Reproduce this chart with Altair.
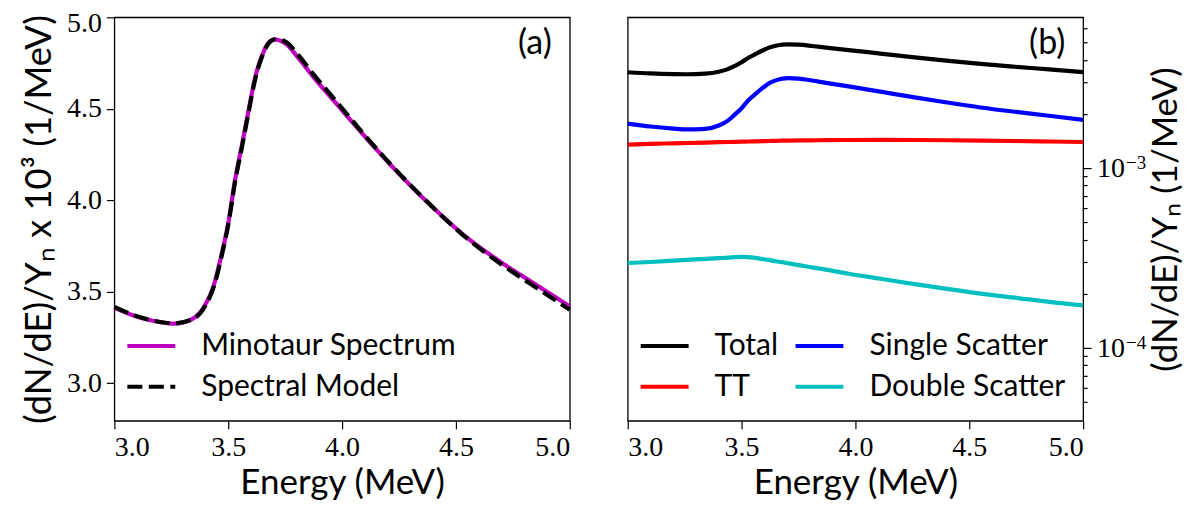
import altair as alt
import pandas as pd

# ---------------- data ----------------
energy = [3.0, 3.1, 3.2, 3.26, 3.34, 3.4, 3.44, 3.47, 3.5, 3.53, 3.56, 3.59, 3.62,
          3.65, 3.68, 3.705, 3.75, 3.81, 3.87, 3.97, 4.11, 4.26, 4.41, 4.55, 4.70,
          4.85, 5.0]

# panel (a): spectra x 1e3
minotaur = [3.413, 3.364, 3.335, 3.326, 3.350, 3.432, 3.550, 3.700, 3.875, 4.110,
            4.300, 4.495, 4.680, 4.795, 4.865, 4.878, 4.858, 4.775, 4.680, 4.535,
            4.335, 4.132, 3.948, 3.795, 3.660, 3.540, 3.420]
model = [3.418, 3.366, 3.335, 3.327, 3.348, 3.425, 3.540, 3.690, 3.865, 4.100,
         4.290, 4.485, 4.670, 4.790, 4.862, 4.880, 4.868, 4.790, 4.695, 4.548,
         4.340, 4.135, 3.948, 3.790, 3.650, 3.525, 3.402]

# panel (b): components, in units of 1e-3 (1/MeV)
total = [3.413, 3.364, 3.335, 3.326, 3.350, 3.432, 3.550, 3.700, 3.875, 4.110,
         4.300, 4.495, 4.680, 4.795, 4.865, 4.878, 4.858, 4.775, 4.680, 4.535,
         4.335, 4.132, 3.948, 3.795, 3.660, 3.540, 3.420]
single = [1.767, 1.702, 1.658, 1.640, 1.652, 1.725, 1.837, 1.982, 2.153, 2.386,
          2.576, 2.772, 2.958, 3.075, 3.147, 3.162, 3.146, 3.068, 2.978, 2.845,
          2.660, 2.474, 2.308, 2.173, 2.056, 1.955, 1.852]
tt = [1.350, 1.362, 1.372, 1.378, 1.386, 1.392, 1.396, 1.399, 1.402, 1.405,
      1.408, 1.411, 1.414, 1.417, 1.419, 1.421, 1.424, 1.427, 1.430, 1.432,
      1.433, 1.432, 1.428, 1.422, 1.414, 1.405, 1.396]
double = [0.296, 0.300, 0.305, 0.308, 0.312, 0.315, 0.317, 0.319, 0.320, 0.319,
          0.316, 0.312, 0.308, 0.303, 0.299, 0.295, 0.288, 0.280, 0.272, 0.258,
          0.242, 0.226, 0.212, 0.200, 0.190, 0.180, 0.172]

left_names = ["Minotaur Spectrum", "Spectral Model"]
left_colors = ["#bf00bf", "#000000"]
# legend fills column by column: (Total, TT) | (Single Scatter, Double Scatter)
right_names = ["Total", "TT", "Single Scatter", "Double Scatter"]
right_colors = ["#000000", "#ff0000", "#0000ff", "#00bfbf"]

x_ticks = [3.0, 3.5, 4.0, 4.5, 5.0]
y_ticks_left = [3.0, 3.5, 4.0, 4.5, 5.0]
log_ticks = [5e-5, 6e-5, 7e-5, 8e-5, 9e-5,
             1e-4, 2e-4, 3e-4, 4e-4, 5e-4, 6e-4, 7e-4, 8e-4, 9e-4,
             1e-3, 2e-3, 3e-3, 4e-3, 5e-3, 6e-3]
# labelled decades of the log axis: mantissa text and exponent text
decade_values = [1e-4, 1e-3]
decade_base = ["10", "10"]
decade_exp = ["−4", "−3"]

n = len(energy)
left_df = pd.DataFrame({
    "E": energy * 2,
    "v": minotaur + model,
    "s": [left_names[0]] * n + [left_names[1]] * n,
    "o": [0] * n + [1] * n,
})
right_rows = []
for name, arr in zip(["Total", "Single Scatter", "TT", "Double Scatter"],
                     [total, single, tt, double]):
    for e, v in zip(energy, arr):
        right_rows.append({"E": e, "v": v * 1e-3, "s": name})
right_df = pd.DataFrame(right_rows)
decade_df = pd.DataFrame({"v": decade_values, "b": decade_base, "e": decade_exp})

TITLE_FONT = "Lato"
LABEL_FONT = "Liberation Serif"

W, H = 456, 404


def x_enc():
    return alt.X("E:Q", scale=alt.Scale(domain=[3.0, 5.0], nice=False, zero=False),
                 axis=alt.Axis(values=x_ticks, format=".1f", title="Energy (MeV)",
                               tickSize=8, labelPadding=5, titlePadding=4))


leg_common = dict(orient="none", title=None, symbolType="stroke", symbolSize=2300,
                  symbolStrokeWidth=4, labelFont=TITLE_FONT, labelFontSize=30,
                  labelColor="black", labelOffset=24, rowPadding=0, padding=0,
                  labelLimit=0)

left_lines = alt.Chart(left_df).mark_line(strokeWidth=4.2, interpolate="monotone").encode(
    x=x_enc(),
    y=alt.Y("v:Q", scale=alt.Scale(domain=[2.795, 5.0], nice=False, zero=False),
            axis=alt.Axis(values=y_ticks_left, format=".1f",
                          title="(dN/dE)/Yₙ x 10³ (1/MeV)", titleFontSize=36.5,
                          tickSize=8, labelPadding=5, titlePadding=8,
                          labelOffset={"condition": {"test": "datum.value >= 4.99",
                                                     "value": 6}, "value": 0})),
    color=alt.Color("s:N", scale=alt.Scale(domain=left_names, range=left_colors),
                    legend=alt.Legend(legendX=11, legendY=303, **leg_common)),
    strokeDash=alt.StrokeDash("s:N", scale=alt.Scale(domain=left_names,
                                                     range=[[1, 0], [15, 6.5]]),
                              legend=alt.Legend(legendX=11, legendY=303, **leg_common)),
    order=alt.Order("o:Q"),
)
left_tag = alt.Chart(pd.DataFrame({"t": ["(a)"]})).mark_text(
    font=TITLE_FONT, fontSize=34, color="black").encode(
    x=alt.value(421), y=alt.value(27), text="t:N")
left = alt.layer(left_lines, left_tag).properties(width=W, height=H)

log_y = alt.Scale(type="log", domain=[3.92e-5, 6.9e-3], nice=False)

right_lines = alt.Chart(right_df).mark_line(strokeWidth=4.2, interpolate="monotone").encode(
    x=x_enc(),
    y=alt.Y("v:Q", scale=log_y,
            axis=alt.Axis(orient="right", values=log_ticks, labels=False,
                          tickSize={"condition": {"test": "datum.value == 0.001 || datum.value == 0.0001",
                                                  "value": 8}, "value": 4},
                          title="(dN/dE)/Yₙ (1/MeV)", titleAngle=270,
                          titleBaseline="top", titlePadding=57)),
    color=alt.Color("s:N", scale=alt.Scale(domain=right_names, range=right_colors),
                    legend=alt.Legend(legendX=11, legendY=303, columns=2,
                                      columnPadding=9, **leg_common)),
)
decade_base_text = alt.Chart(decade_df).mark_text(
    font=LABEL_FONT, fontSize=28, color="black", align="left", baseline="middle", dy=1
).encode(x=alt.value(W + 14), y=alt.Y("v:Q", scale=log_y), text="b:N")
decade_exp_text = alt.Chart(decade_df).mark_text(
    font=LABEL_FONT, fontSize=19, color="black", align="left", baseline="alphabetic", dy=1
).encode(x=alt.value(W + 43), y=alt.Y("v:Q", scale=log_y), text="e:N")
right_tag = alt.Chart(pd.DataFrame({"t": ["(b)"]})).mark_text(
    font=TITLE_FONT, fontSize=34, color="black").encode(
    x=alt.value(420), y=alt.value(27), text="t:N")
right = alt.layer(right_lines, decade_base_text, decade_exp_text, right_tag).properties(
    width=W, height=H)

chart = alt.hconcat(left, right, spacing=58, bounds="flush").resolve_scale(
    color="independent", strokeDash="independent", y="independent"
).resolve_legend(color="independent", strokeDash="independent").configure_axis(
    labelFont=LABEL_FONT, labelFontSize=28, labelColor="black",
    titleFont=TITLE_FONT, titleFontSize=35, titleFontWeight="normal", titleColor="black",
    tickColor="black", tickWidth=1.2, grid=False, domain=False,
).configure_view(stroke="black", strokeWidth=1.3).properties(
    background="white",
    padding={"left": 12.5, "top": 0, "right": 5, "bottom": 0},
)

chart.save("out.html", embed_options={"renderer": "svg", "actions": False})
